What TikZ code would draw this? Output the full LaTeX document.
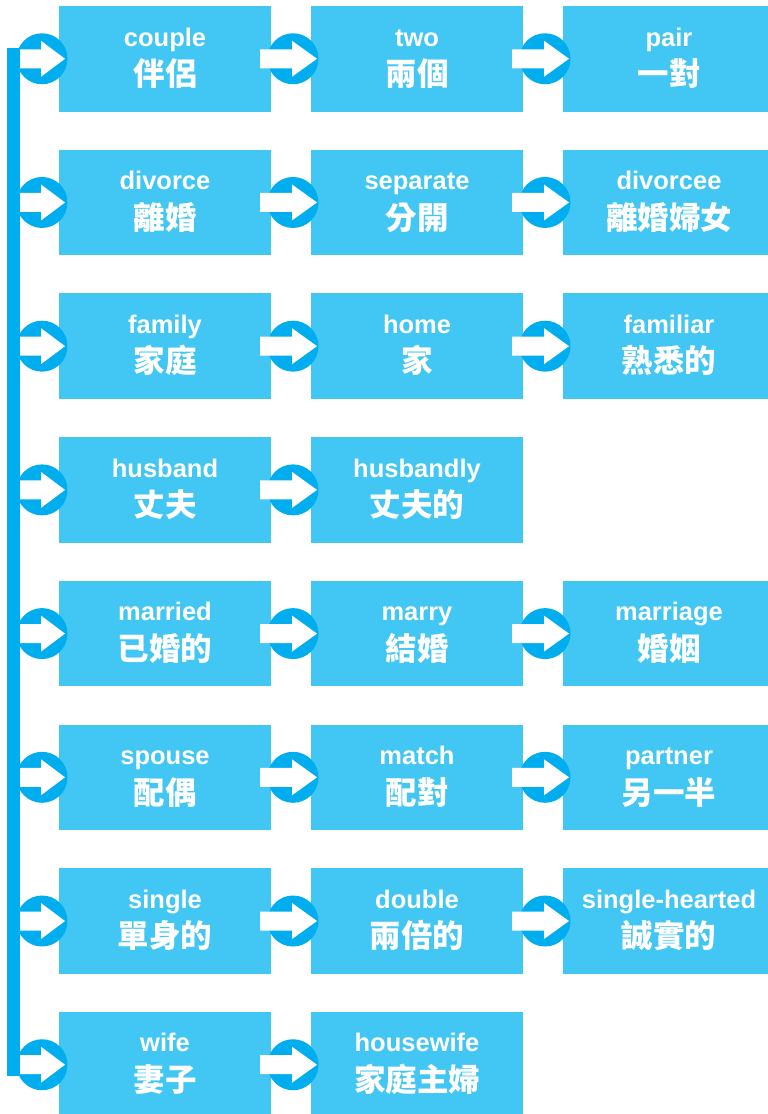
\documentclass[tikz,border=0pt]{standalone}
\usepackage{fontspec}
\setmainfont{Liberation Sans}
\newfontfamily\cjkfont{Noto Sans CJK TC}
\usetikzlibrary{calc}
\definecolor{boxblue}{HTML}{42C6F3}
\definecolor{ringblue}{HTML}{00AEEF}
\newcommand\wordbox[5]{%
  \pgfmathsetmacro\bx{165+252*#2}%
  \pgfmathsetmacro\by{58.75+143.71*#3}%
  \node[wordbox] (#1) at (\bx,\by) {};
  \node[entext] (#1-en) at ($(#1.north)+(0,40)$) {#4};
  \node[zhtext] (#1-zh) at ($(#1.north)+(0,79.5)$) {#5};
}
% ring arrow between two boxes
\newcommand\linkboxes[2]{%
  \node[ring] (#1-#2) at ($(#2.west)+(-18,0)$) {};
  \fill[white] ($(#1-#2)+(-33,-9.5)$) -- ($(#1-#2)+(-1,-9.5)$) -- ($(#1-#2)+(-1,-18)$)
    -- ($(#1-#2)+(24,0)$) -- ($(#1-#2)+(-1,18)$) -- ($(#1-#2)+(-1,9.5)$)
    -- ($(#1-#2)+(-33,9.5)$) -- cycle;
}
% ring arrow from the left bar into a box
\newcommand\linkbar[1]{%
  \node[ring] (bar-#1) at ($(#1.west)+(-17,0)$) {};
  \coordinate (bar-#1-tail) at (barR |- bar-#1);
  \fill[white] ($(bar-#1-tail)+(0,-9.5)$) -- ($(bar-#1)+(-1,-9.5)$) -- ($(bar-#1)+(-1,-18)$)
    -- ($(bar-#1)+(23,0)$) -- ($(bar-#1)+(-1,18)$) -- ($(bar-#1)+(-1,9.5)$)
    -- ($(bar-#1-tail)+(0,9.5)$) -- cycle;
}
\begin{document}
\begin{tikzpicture}[x=1pt,y=-1pt,
  wordbox/.style={fill=boxblue, draw=none, minimum width=212pt, minimum height=105.5pt, inner sep=0pt, outer sep=0pt},
  entext/.style={text=white, font=\fontsize{25.5}{27}\selectfont\bfseries, anchor=base, inner sep=0pt},
  zhtext/.style={text=white, font=\cjkfont\fontsize{31.5}{33}\selectfont\bfseries, anchor=base, inner sep=0pt},
  ring/.style={circle, fill=ringblue, draw=none, minimum size=51pt, inner sep=0pt, outer sep=0pt}]
\useasboundingbox (0,0) rectangle (768,1114);
\begin{scope}
\clip (0,0) rectangle (768,1114);
\wordbox{couple}{0}{0}{couple}{伴侶}
\wordbox{two}{1}{0}{two}{兩個}
\wordbox{pair}{2}{0}{pair}{一對}
\wordbox{divorce}{0}{1}{divorce}{離婚}
\wordbox{separate}{1}{1}{separate}{分開}
\wordbox{divorcee}{2}{1}{divorcee}{離婚婦女}
\wordbox{family}{0}{2}{family}{家庭}
\wordbox{home}{1}{2}{home}{家}
\wordbox{familiar}{2}{2}{familiar}{熟悉的}
\wordbox{husband}{0}{3}{husband}{丈夫}
\wordbox{husbandly}{1}{3}{husbandly}{丈夫的}
\wordbox{married}{0}{4}{married}{已婚的}
\wordbox{marry}{1}{4}{marry}{結婚}
\wordbox{marriage}{2}{4}{marriage}{婚姻}
\wordbox{spouse}{0}{5}{spouse}{配偶}
\wordbox{match}{1}{5}{match}{配對}
\wordbox{partner}{2}{5}{partner}{另一半}
\wordbox{single}{0}{6}{single}{單身的}
\wordbox{double}{1}{6}{double}{兩倍的}
\wordbox{singlehearted}{2}{6}{single-hearted}{誠實的}
\wordbox{wife}{0}{7}{wife}{妻子}
\wordbox{housewife}{1}{7}{housewife}{家庭主婦}
\end{scope}
% left bar
\coordinate (barL) at (7,0);
\coordinate (barR) at (20,0);
\fill[ringblue] ($(barL |- couple.west)+(0,-11)$) rectangle ($(barR |- wife.west)+(0,11)$);
\foreach \b in {couple,divorce,family,husband,married,spouse,single,wife} {\linkbar{\b}}
\linkboxes{couple}{two}
\linkboxes{two}{pair}
\linkboxes{divorce}{separate}
\linkboxes{separate}{divorcee}
\linkboxes{family}{home}
\linkboxes{home}{familiar}
\linkboxes{husband}{husbandly}
\linkboxes{married}{marry}
\linkboxes{marry}{marriage}
\linkboxes{spouse}{match}
\linkboxes{match}{partner}
\linkboxes{single}{double}
\linkboxes{double}{singlehearted}
\linkboxes{wife}{housewife}
\end{tikzpicture}
\end{document}
